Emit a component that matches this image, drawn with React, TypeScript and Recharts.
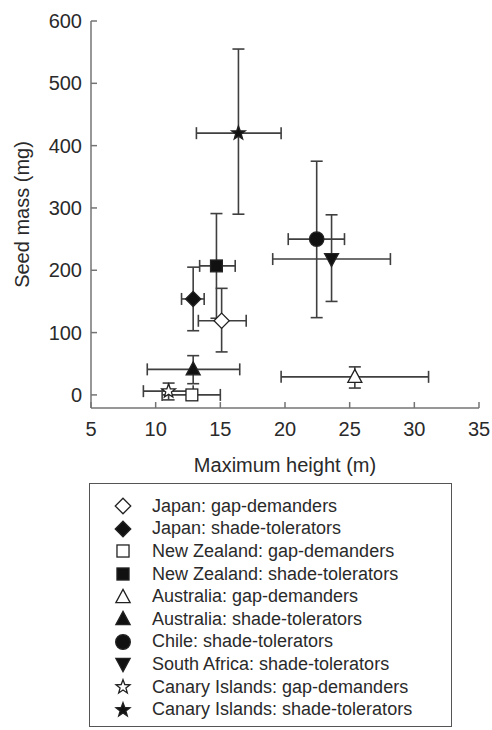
import { ErrorBar, Scatter, ScatterChart, XAxis, YAxis } from "recharts";

const names = [
  "Japan: gap-demanders",
  "Japan: shade-tolerators",
  "New Zealand: gap-demanders",
  "New Zealand: shade-tolerators",
  "Australia: gap-demanders",
  "Australia: shade-tolerators",
  "Chile: shade-tolerators",
  "South Africa: shade-tolerators",
  "Canary Islands: gap-demanders",
  "Canary Islands: shade-tolerators"
];
const markers = ["diamond", "diamond", "square", "square", "triangle", "triangle", "circle", "triangleDown", "star", "star"];
const filled = [false, true, false, true, false, true, true, true, false, true];

// maximum height (m): mean and error range
const heights = [15.1, 12.9, 12.8, 14.7, 25.4, 12.9, 22.45, 23.6, 11.0, 16.4];
const heightLow = [13.3, 12.0, 10.5, 13.4, 19.7, 9.35, 20.25, 19.05, 9.05, 13.15];
const heightHigh = [17.0, 13.75, 15.0, 16.15, 31.1, 16.5, 24.6, 28.15, 12.9, 19.7];

// seed mass (mg): mean and error range
const seedMass = [119, 154, 0, 207, 29, 41, 250, 218, 6, 420];
const massLow = [69, 103, -7, 123, 11, 18, 124, 150, -8, 290];
const massHigh = [171, 205, 7, 291, 45, 63, 375, 289, 19, 555];

const xTicks = [5, 10, 15, 20, 25, 30, 35];
const yTicks = [0, 100, 200, 300, 400, 500, 600];

const FONT = "'Liberation Sans', Arial, sans-serif";
const INK = "#2a2a2a";
const AXIS = "#747474";

const Marker = ({ cx, cy, kind, solid, scale = 1 }: any) => {
  const fill = solid ? "#111" : "#fff";
  const common = { fill, stroke: "#222", strokeWidth: 1.3 };
  const k = scale;
  if (kind === "diamond") {
    const r = 7.6 * k;
    return <path d={`M${cx},${cy - r}L${cx + r},${cy}L${cx},${cy + r}L${cx - r},${cy}Z`} {...common} />;
  }
  if (kind === "square") {
    const s = 5.9 * k;
    return <rect x={cx - s} y={cy - s} width={s * 2} height={s * 2} {...common} />;
  }
  if (kind === "circle") {
    return <circle cx={cx} cy={cy} r={7.2 * k} {...common} />;
  }
  if (kind === "triangle") {
    return <path d={`M${cx},${cy - 7.5 * k}L${cx + 7 * k},${cy + 5.5 * k}L${cx - 7 * k},${cy + 5.5 * k}Z`} {...common} />;
  }
  if (kind === "triangleDown") {
    return <path d={`M${cx},${cy + 7.5 * k}L${cx + 7 * k},${cy - 5.5 * k}L${cx - 7 * k},${cy - 5.5 * k}Z`} {...common} />;
  }
  // star
  const pts: string[] = [];
  for (let i = 0; i < 10; i++) {
    const rad = i % 2 === 0 ? 7.2 * k : 3 * k;
    const a = -Math.PI / 2 + (i * Math.PI) / 5;
    pts.push(`${cx + rad * Math.cos(a)},${cy + rad * Math.sin(a)}`);
  }
  return <polygon points={pts.join(" ")} {...common} />;
};

const series = names.map((name, i) => ({
  name,
  kind: markers[i],
  solid: filled[i],
  data: [
    {
      x: heights[i],
      y: seedMass[i],
      ex: [heights[i] - heightLow[i], heightHigh[i] - heights[i]],
      ey: [seedMass[i] - massLow[i], massHigh[i] - seedMass[i]]
    }
  ]
}));

// draw later legend entries first so open markers sit on top
const drawOrder = [...series].reverse();

export default function App() {
  return (
    <div style={{ position: "absolute", left: 0, top: 0, width: 492, height: 730, background: "#fff", fontFamily: FONT }}>
      <ScatterChart width={492} height={480} margin={{ top: 21, right: 13, bottom: 0, left: 31 }}>
        <XAxis
          type="number"
          dataKey="x"
          domain={[5, 35]}
          ticks={xTicks}
          height={72}
          stroke={AXIS}
          strokeWidth={1.5}
          tickSize={-6}
          tickMargin={20}
          tick={{ fill: INK, fontSize: 20, fontFamily: FONT }}
          label={{ value: "Maximum height (m)", position: "insideBottom", offset: 8, fill: INK, fontSize: 20, fontFamily: FONT }}
        />
        <YAxis
          type="number"
          dataKey="y"
          domain={[-21, 600]}
          ticks={yTicks}
          width={60}
          stroke={AXIS}
          strokeWidth={1.5}
          tickSize={-6}
          tickMargin={15}
          tick={{ fill: INK, fontSize: 20, fontFamily: FONT }}
          label={{ value: "Seed mass (mg)", angle: -90, position: "insideLeft", offset: -9, fill: INK, fontSize: 20, fontFamily: FONT, style: { textAnchor: "middle" } }}
        />
        {drawOrder.map((s) => (
          <Scatter
            key={s.name}
            name={s.name}
            data={s.data}
            isAnimationActive={false}
            shape={(p: any) => <Marker cx={p.cx} cy={p.cy} kind={s.kind} solid={s.solid} />}
          >
            <ErrorBar dataKey="ex" direction="x" width={6} stroke="#3f3f3f" strokeWidth={1.6} />
            <ErrorBar dataKey="ey" direction="y" width={6} stroke="#3f3f3f" strokeWidth={1.6} />
          </Scatter>
        ))}
      </ScatterChart>
      <div
        style={{
          position: "absolute",
          left: 89,
          top: 483,
          width: 363,
          height: 244,
          border: "1.5px solid #555",
          boxSizing: "border-box",
          paddingTop: 11
        }}
      >
        {series.map((s) => (
          <div key={s.name} style={{ display: "flex", alignItems: "center", height: 22.6 }}>
            <svg width={30} height={20} style={{ marginLeft: 19, flexShrink: 0 }}>
              <Marker cx={14} cy={10} kind={s.kind} solid={s.solid} scale={1.02} />
            </svg>
            <span style={{ marginLeft: 13, fontSize: 18, color: INK, whiteSpace: "nowrap" }}>{s.name}</span>
          </div>
        ))}
      </div>
    </div>
  );
}
